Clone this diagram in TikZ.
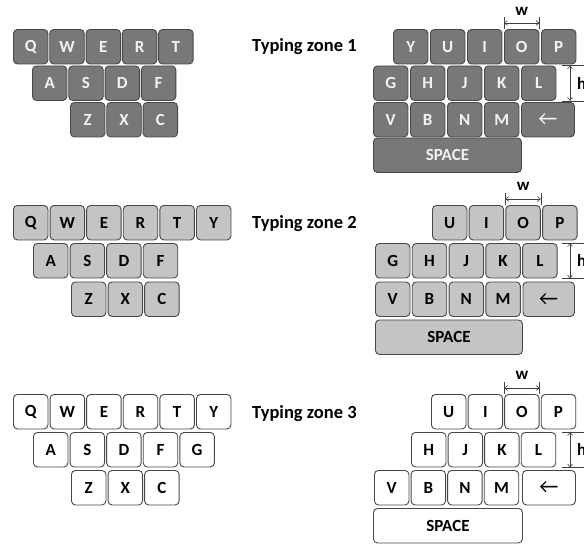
\documentclass[tikz,border=0pt]{standalone}
\usepackage{fontspec}
\setmainfont{Carlito}
\usetikzlibrary{arrows.meta}
\definecolor{kdark}{HTML}{787878}
\definecolor{klight}{HTML}{C4C4C4}
\definecolor{kborder}{HTML}{474747}
\definecolor{ktextlight}{HTML}{F2F2F2}
\tikzset{
  keybase/.style={draw=kborder, line width=0.9pt, rounded corners=4pt,
    minimum width=34.5pt, minimum height=34.5pt, inner sep=0pt, anchor=north west,
    font=\bfseries\fontsize{17}{17}\selectfont},
  zoneA/.style={keybase, fill=kdark, text=ktextlight},
  zoneB/.style={keybase, fill=klight, text=black},
  zoneC/.style={keybase, fill=white, text=black},
  bskey/.style={font=\mdseries\fontsize{21}{21}\selectfont},
  dimline/.style={draw=black!75, line width=0.6pt},
  dimarrow/.style={dimline, {Straight Barb[length=3pt,width=5pt]}-{Straight Barb[length=3pt,width=5pt]}},
  dimlabel/.style={font=\bfseries\fontsize{17}{17}\selectfont, inner sep=0pt},
  zonelabel/.style={anchor=base west, inner sep=0pt, font=\bfseries\fontsize{18.5}{18.5}\selectfont},
}
\begin{document}
\begin{tikzpicture}[x=1pt,y=-1pt]
\useasboundingbox (0,0) rectangle (584,544);
\coordinate (hx) at (562,0);
% ---------------- Zone 1 ----------------
\foreach \k [count=\i from 0] in {Q,W,E,R,T} \node[zoneA] (a\k) at ({13+\i*36.3},29) {\k};
\foreach \k [count=\i from 0] in {A,S,D,F} \node[zoneA] (a\k) at ({32+\i*36.3},65.5) {\k};
\foreach \k [count=\i from 0] in {Z,X,C} \node[zoneA] (a\k) at ({70+\i*36.3},102) {\k};
\foreach \k [count=\i from 0] in {Y,U,I,O,P} \node[zoneA] (a\k) at ({393+\i*37},29) {\k};
\foreach \k [count=\i from 0] in {G,H,J,K,L} \node[zoneA] (a\k) at ({373+\i*37},65.5) {\k};
\foreach \k [count=\i from 0] in {V,B,N,M} \node[zoneA] (a\k) at ({373+\i*37},102) {\k};
\node[zoneA, bskey, minimum width=53pt] (aBS) at (521,102) {←};
\node[zoneA, minimum width=148pt] (aSP) at (373,137.5) {SPACE};
\node[zonelabel] (t1) at (252,51.5) {Typing zone 1};
\draw[dimline] (aO.north west) -- ++(0,-12);
\draw[dimline] (aO.north east) -- ++(0,-12);
\draw[dimarrow] ([yshift=6pt]aO.north west) -- ([yshift=6pt]aO.north east);
\node[dimlabel] (aw) at ([yshift=18pt]aO.north) {w};
\draw[dimline] (aL.north east -| hx) -- ++(24,0);
\draw[dimline] (aL.south east -| hx) -- ++(24,0);
\draw[dimarrow] ([xshift=8pt]aL.north east -| hx) -- ([xshift=8pt]aL.south east -| hx);
\node[dimlabel, anchor=west] (ah) at ([xshift=15pt]aL.east -| hx) {h};
% ---------------- Zone 2 ----------------
\foreach \k [count=\i from 0] in {Q,W,E,R,T,Y} \node[zoneB] (b\k) at ({13+\i*36.6},205) {\k};
\foreach \k [count=\i from 0] in {A,S,D,F} \node[zoneB] (b\k) at ({33+\i*36.6},243) {\k};
\foreach \k [count=\i from 0] in {Z,X,C} \node[zoneB] (b\k) at ({71+\i*36.6},281.5) {\k};
\foreach \k [count=\i from 0] in {U,I,O,P} \node[zoneB] (b\k) at ({432+\i*36.7},205) {\k};
\foreach \k [count=\i from 0] in {G,H,J,K,L} \node[zoneB] (b\k) at ({375+\i*36.8},243) {\k};
\foreach \k [count=\i from 0] in {V,B,N,M} \node[zoneB] (b\k) at ({375+\i*36.8},281.5) {\k};
\node[zoneB, bskey, minimum width=51.5pt] (bBS) at (522.5,281.5) {←};
\node[zoneB, minimum width=147pt] (bSP) at (375,319.5) {SPACE};
\node[zonelabel] (t2) at (252,228.5) {Typing zone 2};
\draw[dimline] (bO.north west) -- ++(0,-12);
\draw[dimline] (bO.north east) -- ++(0,-12);
\draw[dimarrow] ([yshift=6pt]bO.north west) -- ([yshift=6pt]bO.north east);
\node[dimlabel] (bw) at ([yshift=19pt]bO.north) {w};
\draw[dimline] (bL.north east -| hx) -- ++(24,0);
\draw[dimline] (bL.south east -| hx) -- ++(24,0);
\draw[dimarrow] ([xshift=8pt]bL.north east -| hx) -- ([xshift=8pt]bL.south east -| hx);
\node[dimlabel, anchor=west] (bh) at ([xshift=15pt]bL.east -| hx) {h};
% ---------------- Zone 3 ----------------
\foreach \k [count=\i from 0] in {Q,W,E,R,T,Y} \node[zoneC] (c\k) at ({13+\i*36.6},394) {\k};
\foreach \k [count=\i from 0] in {A,S,D,F,G} \node[zoneC] (c\k) at ({33+\i*36.6},432) {\k};
\foreach \k [count=\i from 0] in {Z,X,C} \node[zoneC] (c\k) at ({71+\i*36.6},470) {\k};
\foreach \k [count=\i from 0] in {U,I,O,P} \node[zoneC] (c\k) at ({431+\i*36.6},394) {\k};
\foreach \k [count=\i from 0] in {H,J,K,L} \node[zoneC] (c\k) at ({411+\i*36.6},432) {\k};
\foreach \k [count=\i from 0] in {V,B,N,M} \node[zoneC] (c\k) at ({374+\i*36.6},470) {\k};
\node[zoneC, bskey, minimum width=53pt] (cBS) at (522,470) {←};
\node[zoneC, minimum width=149pt] (cSP) at (373,508) {SPACE};
\node[zonelabel] (t3) at (252,418.5) {Typing zone 3};
\draw[dimline] (cO.north west) -- ++(0,-12);
\draw[dimline] (cO.north east) -- ++(0,-12);
\draw[dimarrow] ([yshift=6pt]cO.north west) -- ([yshift=6pt]cO.north east);
\node[dimlabel] (cw) at ([yshift=19pt]cO.north) {w};
\draw[dimline] (cL.north east -| hx) -- ++(24,0);
\draw[dimline] (cL.south east -| hx) -- ++(24,0);
\draw[dimarrow] ([xshift=8pt]cL.north east -| hx) -- ([xshift=8pt]cL.south east -| hx);
\node[dimlabel, anchor=west] (ch) at ([xshift=15pt]cL.east -| hx) {h};
\end{tikzpicture}
\end{document}
